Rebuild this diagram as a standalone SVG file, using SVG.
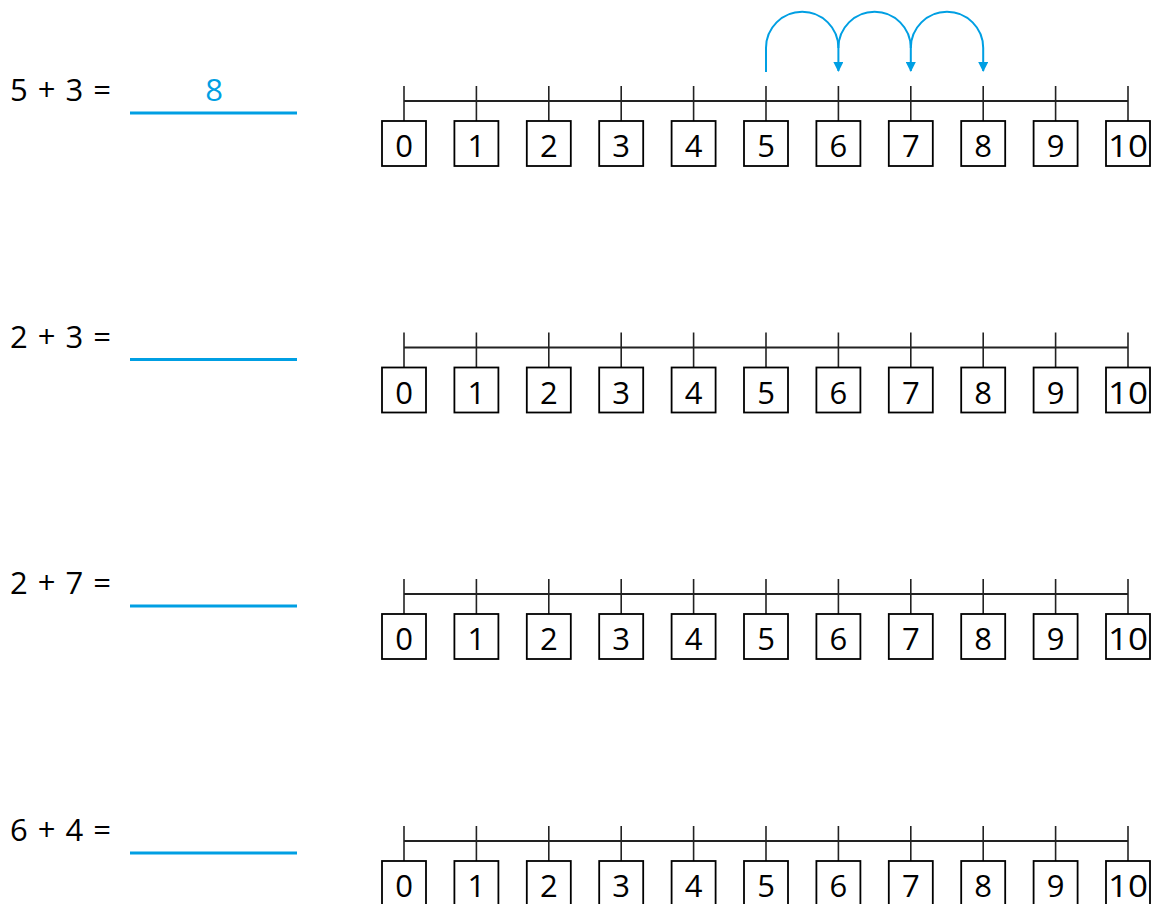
<svg xmlns="http://www.w3.org/2000/svg" xmlns:xlink="http://www.w3.org/1999/xlink" width="1152" height="904" viewBox="0 0 1152 904">
<style>
text{font-family:"Open Sans","Noto Sans","DejaVu Sans",sans-serif;font-size:31px;fill:#000}
.eq{word-spacing:2px}
.num{text-anchor:middle}
.box{fill:#fff;stroke:#000;stroke-width:1.8}
.tick{stroke:#222;stroke-width:1.6}
.axis{stroke:#222;stroke-width:1.8}
.ans{stroke:#009fe3;stroke-width:3}
.blue{fill:#009fe3}
.jump{fill:none;stroke:#009fe3;stroke-width:2}
</style>
<defs>
<marker id="arr" viewBox="0 0 10 10" refX="9" refY="5" markerWidth="10" markerHeight="10" markerUnits="userSpaceOnUse" orient="auto">
<path d="M0,0 L10,5 L0,10 Z" fill="#009fe3"/>
</marker>
<g id="nl">
<line class="axis" x1="404" y1="101" x2="1128" y2="101"/>
<g class="tick">
<line x1="404" y1="86" x2="404" y2="121"/>
<line x1="476.4" y1="86" x2="476.4" y2="121"/>
<line x1="548.8" y1="86" x2="548.8" y2="121"/>
<line x1="621.2" y1="86" x2="621.2" y2="121"/>
<line x1="693.6" y1="86" x2="693.6" y2="121"/>
<line x1="766" y1="86" x2="766" y2="121"/>
<line x1="838.4" y1="86" x2="838.4" y2="121"/>
<line x1="910.8" y1="86" x2="910.8" y2="121"/>
<line x1="983.2" y1="86" x2="983.2" y2="121"/>
<line x1="1055.6" y1="86" x2="1055.6" y2="121"/>
<line x1="1128" y1="86" x2="1128" y2="121"/>
</g>
<g id="n0"><rect class="box" x="382" y="121" width="44" height="45"/><text class="num" x="404" y="157">0</text></g>
<g id="n1"><rect class="box" x="454.4" y="121" width="44" height="45"/><text class="num" x="476.4" y="157">1</text></g>
<g id="n2"><rect class="box" x="526.8" y="121" width="44" height="45"/><text class="num" x="548.8" y="157">2</text></g>
<g id="n3"><rect class="box" x="599.2" y="121" width="44" height="45"/><text class="num" x="621.2" y="157">3</text></g>
<g id="n4"><rect class="box" x="671.6" y="121" width="44" height="45"/><text class="num" x="693.6" y="157">4</text></g>
<g id="n5"><rect class="box" x="744" y="121" width="44" height="45"/><text class="num" x="766" y="157">5</text></g>
<g id="n6"><rect class="box" x="816.4" y="121" width="44" height="45"/><text class="num" x="838.4" y="157">6</text></g>
<g id="n7"><rect class="box" x="888.8" y="121" width="44" height="45"/><text class="num" x="910.8" y="157">7</text></g>
<g id="n8"><rect class="box" x="961.2" y="121" width="44" height="45"/><text class="num" x="983.2" y="157">8</text></g>
<g id="n9"><rect class="box" x="1033.6" y="121" width="44" height="45"/><text class="num" x="1055.6" y="157">9</text></g>
<g id="n10"><rect class="box" x="1106" y="121" width="44" height="45"/><text class="num" x="1128" y="157" textLength="40" lengthAdjust="spacingAndGlyphs">10</text></g>
</g>
</defs>

<g id="row1">
<text class="eq" x="10" y="101">5 + 3 =</text>
<line class="ans" x1="130" y1="113" x2="297" y2="113"/>
<text class="num blue" x="214" y="101">8</text>
<use xlink:href="#nl" href="#nl"/>
</g>

<g id="connectors">
<path class="jump" marker-end="url(#arr)" d="M766,72 V48 A36.2,36.2 0 0 1 838.4,48 V71"/>
<path class="jump" marker-end="url(#arr)" d="M838.4,48 A36.2,36.2 0 0 1 910.8,48 V71"/>
<path class="jump" marker-end="url(#arr)" d="M910.8,48 A36.2,36.2 0 0 1 983.2,48 V71"/>
</g>

<g id="row2" transform="translate(0,246.5)">
<text class="eq" x="10" y="101">2 + 3 =</text>
<line class="ans" x1="130" y1="113" x2="297" y2="113"/>
<use xlink:href="#nl" href="#nl"/>
</g>

<g id="row3" transform="translate(0,493)">
<text class="eq" x="10" y="101">2 + 7 =</text>
<line class="ans" x1="130" y1="113" x2="297" y2="113"/>
<use xlink:href="#nl" href="#nl"/>
</g>

<g id="row4" transform="translate(0,740)">
<text class="eq" x="10" y="101">6 + 4 =</text>
<line class="ans" x1="130" y1="113" x2="297" y2="113"/>
<use xlink:href="#nl" href="#nl"/>
</g>
</svg>
